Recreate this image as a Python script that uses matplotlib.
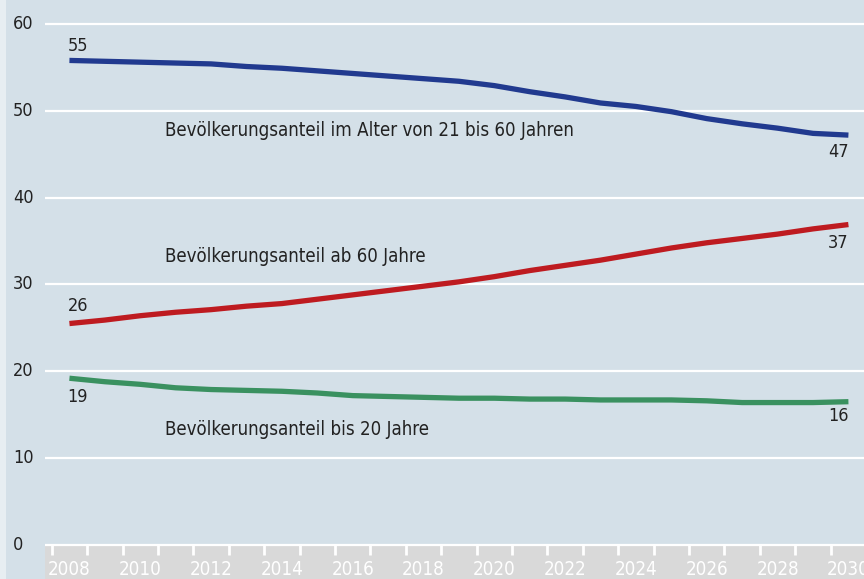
import matplotlib.pyplot as plt
from matplotlib.patches import Rectangle
from matplotlib.transforms import blended_transform_factory
import numpy as np

# data (share of population in %)
years = list(range(2008, 2031))
age_21_60 = [55.8, 55.7, 55.6, 55.5, 55.4, 55.1, 54.9, 54.6, 54.3, 54.0, 53.7, 53.4,
             52.9, 52.2, 51.6, 50.9, 50.5, 49.9, 49.1, 48.5, 48.0, 47.4, 47.2]
age_60_plus = [25.5, 25.9, 26.4, 26.8, 27.1, 27.5, 27.8, 28.3, 28.8, 29.3, 29.8, 30.3,
               30.9, 31.6, 32.2, 32.8, 33.5, 34.2, 34.8, 35.3, 35.8, 36.4, 36.9]
age_under_20 = [19.2, 18.8, 18.5, 18.1, 17.9, 17.8, 17.7, 17.5, 17.2, 17.1, 17.0, 16.9,
                16.9, 16.8, 16.8, 16.7, 16.7, 16.7, 16.6, 16.4, 16.4, 16.4, 16.5]

series_names = ["Bevölkerungsanteil im Alter von 21 bis 60 Jahren",
                "Bevölkerungsanteil ab 60 Jahre",
                "Bevölkerungsanteil bis 20 Jahre"]
start_labels = ["55", "26", "19"]
end_labels = ["47", "37", "16"]
y_ticks = [0, 10, 20, 30, 40, 50, 60]
year_labels = list(range(2008, 2031, 2))

BG = "#d4e0e8"
TXT = "#222222"
colors = ["#213a8f", "#be1b20", "#3a9160"]

fig = plt.figure(figsize=(8.64, 5.79), dpi=100, facecolor=BG)
fig.add_artist(Rectangle((0, 0), 6 / 864, 1, transform=fig.transFigure,
                         facecolor="#e7eef2", edgecolor="none", zorder=0))

ax = fig.add_axes([45 / 864, 0, 1 - 45 / 864, 1])
ax.set_facecolor(BG)
ymin, ymax = -3.92, 62.76
ax.set_ylim(ymin, ymax)
ax.set_xlim(2007.31, 2030.44)
for s in ax.spines.values():
    s.set_visible(False)
ax.set_xticks([])
ax.set_yticks([])

# grey band with year axis
ax.axhspan(ymin, 0, color="#d9d9d9", lw=0, zorder=1)
for t in y_ticks:
    ax.axhline(t, color="white", lw=1.6, zorder=2)
tick_pos = np.arange(2007.5, 2030.0, 1.0)
ax.vlines(tick_pos, -1.2, 0, color="white", lw=2, zorder=2)
for y in year_labels:
    ax.text(y, -2.85, str(y), color="white", fontsize=13.5, fontstretch="condensed",
            ha="center", va="center", zorder=3, clip_on=False)

# y labels, left aligned at the figure edge
tr = blended_transform_factory(fig.transFigure, ax.transData)
for t in y_ticks:
    ax.text(13 / 864, t, str(t), transform=tr, color=TXT, fontsize=13,
            fontstretch="condensed", ha="left", va="center")

all_series = [age_21_60, age_60_plus, age_under_20]
for vals, c in zip(all_series, colors):
    ax.plot(years, vals, color=c, lw=3.8, solid_capstyle="butt", zorder=4)

# value labels at both ends
start_off = [1.7, 2.0, -2.2]
end_off = [-1.9, -2.1, -1.6]
for vals, a, b, da, db in zip(all_series, start_labels, end_labels, start_off, end_off):
    ax.text(years[0] - 0.05, vals[0] + da, a, color=TXT, fontsize=13,
            fontstretch="condensed", ha="left", va="center", zorder=5)
    ax.text(years[-1], vals[-1] + db, b, color=TXT, fontsize=13,
            fontstretch="condensed", ha="right", va="center", zorder=5)

# series names
name_y = [47.7, 33.2, 13.3]
for n, yy in zip(series_names, name_y):
    ax.text(2010.7, yy, n, color=TXT, fontsize=13.4, fontstretch="condensed",
            ha="left", va="center", zorder=5)

fig.savefig("out.png", dpi=100, facecolor=BG)
